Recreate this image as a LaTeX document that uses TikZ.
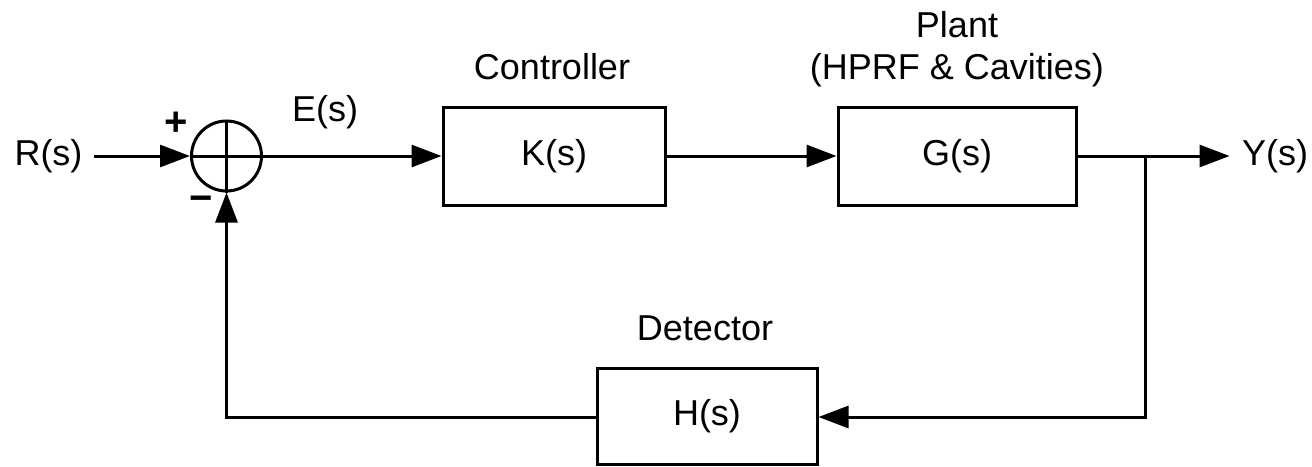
\documentclass[tikz,border=0pt]{standalone}
\usepackage{fontspec}
\setmainfont{Liberation Sans}
\usetikzlibrary{arrows.meta}
\begin{document}
\begin{tikzpicture}[x=0.5pt,y=-0.5pt,
  every node/.style={font=\fontsize{18}{21}\selectfont},
  wire/.style={line width=1.5pt},
  arr/.style={wire,-{Triangle[length=15pt,width=11pt]}},
  blockbox/.style={draw,line width=1.5pt,rectangle,inner sep=0pt},
  lbl/.style={inner sep=0pt},
  sign/.style={inner sep=0pt,font=\fontsize{20}{22}\selectfont\bfseries}
]
\useasboundingbox (0,0) rectangle (1312,466);
% nodes
\node[draw,circle,line width=1.5pt,minimum size=35pt,inner sep=0pt] (sum) at (226.5,156) {};
\draw[wire] (sum.north) -- (sum.south) (sum.west) -- (sum.east);
\node[lbl,inner xsep=5.5pt] (R) at (48.5,156) {R(s)};
\node[blockbox,minimum width=111pt,minimum height=49pt] (K) at (554,156) {K(s)};
\node[blockbox,minimum width=119pt,minimum height=49pt] (G) at (957,156) {G(s)};
\node[blockbox,minimum width=110pt,minimum height=48pt] (H) at (707,416) {H(s)};
\node[lbl,inner xsep=6pt] (Y) at (1275,156) {Y(s)};
\coordinate (br) at (1145,156);
\coordinate (brd) at (1145,417);
\coordinate (fbl) at (226.5,417);
% labels
\node[lbl] (lc) at (552,67) {Controller};
\node[lbl] (lp) at (957,25) {Plant};
\node[lbl] (lh) at (957,70) {(HPRF \& Cavities)};
\node[lbl] (ld) at (705,328) {Detector};
\node[lbl] (le) at (325,112) {E(s)};
\node[sign] (lplus) at (176,124) {+};
\node[sign] (lminus) at (201,204) {−};
% connectors
\draw[arr] (R.east) -- (sum.west);
\draw[arr] (sum.east) -- (K.west);
\draw[arr] (K.east) -- (G.west);
\draw[wire] (G.east) -- (br);
\draw[arr] (br) -- (Y.west);
\draw[arr] (br) -- (brd) -- (H.east |- brd);
\draw[arr] (H.west |- fbl) -- (fbl) -- (sum.south);
\end{tikzpicture}
\end{document}
